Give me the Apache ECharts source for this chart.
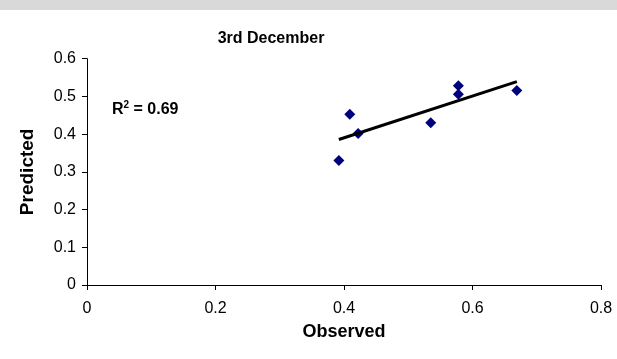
<!DOCTYPE html>
<html>
<head>
<meta charset="utf-8">
<script src="https://cdn.jsdelivr.net/npm/echarts@6/dist/echarts.min.js"></script>
<style>
html,body{margin:0;padding:0;background:#fff;}
#c{width:617px;height:359px;}
</style>
</head>
<body>
<div id="c"></div>
<script>
// Data
var observed  = [0.392, 0.409, 0.422, 0.535, 0.578, 0.578, 0.669];
var predicted = [0.330, 0.453, 0.402, 0.430, 0.528, 0.506, 0.516];
var xTicks = [0, 0.2, 0.4, 0.6, 0.8];
var yTicks = [0, 0.1, 0.2, 0.3, 0.4, 0.5, 0.6];
var titleText = '3rd December';
var r2Text = '0.69';

var points = observed.map(function (x, i) { return [x, predicted[i]]; });

// least-squares trend line through the observed points
var n = observed.length, mx = 0, my = 0;
for (var i = 0; i < n; i++) { mx += observed[i]; my += predicted[i]; }
mx /= n; my /= n;
var sxy = 0, sxx = 0;
for (var i = 0; i < n; i++) { sxy += (observed[i] - mx) * (predicted[i] - my); sxx += (observed[i] - mx) * (observed[i] - mx); }
var slope = sxy / sxx, icpt = my - slope * mx;
var xmin = Math.min.apply(null, observed), xmax = Math.max.apply(null, observed);
var trend = [[xmin, icpt + slope * xmin], [xmax, icpt + slope * xmax]];

var font = 'Liberation Sans, Arial, sans-serif';
var chart = echarts.init(document.getElementById('c'), null, {renderer: 'canvas'});
chart.setOption({
  animation: false,
  backgroundColor: '#ffffff',
  graphic: [{
    type: 'rect', left: 0, top: 0, shape: {width: 617, height: 10},
    style: {fill: '#d9d9d9'}, silent: true
  }],
  title: [{
    text: titleText, left: 266, top: 26, textAlign: 'center',
    textStyle: {fontFamily: font, fontWeight: 'bold', fontSize: 16, color: '#000'}
  }, {
    text: '{a|R}{s|2}{a| = ' + r2Text + '}', left: 107, top: 95,
    textStyle: {
      rich: {
        a: {fontFamily: font, fontWeight: 'bold', fontSize: 16, color: '#000', verticalAlign: 'bottom'},
        s: {fontFamily: font, fontWeight: 'bold', fontSize: 10, color: '#000', verticalAlign: 'top', padding: [0, 0, 8, 0]}
      }
    }
  }],
  grid: {left: 87, right: 16, top: 58.7, bottom: 74, containLabel: false},
  xAxis: {
    type: 'value', min: xTicks[0], max: xTicks[xTicks.length - 1], interval: 0.2,
    name: 'Observed', nameLocation: 'middle', nameGap: 38,
    nameTextStyle: {fontFamily: font, fontWeight: 'bold', fontSize: 18, color: '#000'},
    axisLine: {show: true, onZero: false, lineStyle: {color: '#000', width: 1}},
    axisTick: {show: true, inside: false, length: 5, lineStyle: {color: '#000'}},
    axisLabel: {fontFamily: font, fontSize: 16, color: '#000', margin: 16,
      formatter: function (v) { return String(Math.round(v * 10) / 10); }},
    splitLine: {show: false}
  },
  yAxis: {
    type: 'value', min: yTicks[0], max: yTicks[yTicks.length - 1], interval: 0.1,
    name: 'Predicted', nameLocation: 'middle', nameGap: 50, nameRotate: 90,
    nameTextStyle: {fontFamily: font, fontWeight: 'bold', fontSize: 19, color: '#000'},
    axisLine: {show: true, onZero: false, lineStyle: {color: '#000', width: 1}},
    axisTick: {show: true, inside: false, length: 5, lineStyle: {color: '#000'}},
    axisLabel: {fontFamily: font, fontSize: 16, color: '#000', margin: 11,
      formatter: function (v) { return String(Math.round(v * 10) / 10); }},
    splitLine: {show: false}
  },
  series: [{
    type: 'scatter', data: points, symbol: 'diamond', symbolSize: 11,
    itemStyle: {color: '#000080', opacity: 1}, z: 3
  }, {
    type: 'line', data: trend, symbol: 'none',
    lineStyle: {color: '#000', width: 3}, z: 4
  }]
});
</script>
</body>
</html>
